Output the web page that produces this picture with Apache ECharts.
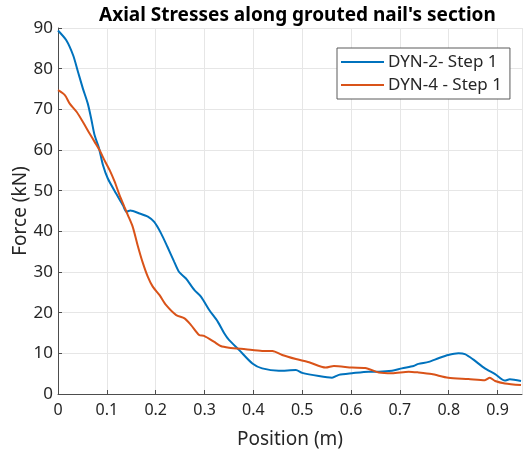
<!DOCTYPE html>
<html>
<head>
<meta charset="utf-8">
<script src="https://cdn.jsdelivr.net/npm/echarts@6/dist/echarts.min.js"></script>
<style>
html,body{margin:0;padding:0;background:#fff;}
#chart{width:523px;height:450px;}
</style>
</head>
<body>
<div id="chart"></div>
<script>
const titleText = "Axial Stresses along grouted nail's section";
const seriesNames = ["DYN-2- Step 1", "DYN-4 - Step 1"];
const xTicks = [0, 0.1, 0.2, 0.3, 0.4, 0.5, 0.6, 0.7, 0.8, 0.9];

const pos2 = [0, 0.017, 0.031, 0.041, 0.051, 0.061, 0.068, 0.075, 0.084, 0.092, 0.102, 0.119, 0.133, 0.140, 0.148, 0.167, 0.184, 0.197, 0.211, 0.224, 0.238, 0.248, 0.262, 0.279, 0.293, 0.310, 0.327, 0.340, 0.350, 0.371, 0.398, 0.418, 0.452, 0.487, 0.500, 0.534, 0.561, 0.575, 0.602, 0.636, 0.657, 0.684, 0.704, 0.728, 0.738, 0.759, 0.779, 0.799, 0.820, 0.833, 0.850, 0.874, 0.895, 0.915, 0.925, 0.948];
const force2 = [89.4, 87.0, 83.3, 79.2, 75.1, 71.4, 67.7, 63.6, 60.4, 56.3, 53.0, 49.3, 46.4, 44.8, 45.1, 44.4, 43.6, 42.3, 39.5, 36.2, 32.5, 30.0, 28.4, 25.6, 23.9, 20.6, 17.8, 15.0, 13.3, 10.8, 7.5, 6.3, 5.7, 5.9, 5.2, 4.4, 4.0, 4.7, 5.1, 5.5, 5.5, 5.7, 6.3, 6.9, 7.4, 7.9, 8.8, 9.6, 10.0, 9.8, 8.5, 6.3, 4.9, 3.3, 3.6, 3.2];

const pos4 = [0, 0.014, 0.024, 0.038, 0.051, 0.065, 0.075, 0.085, 0.095, 0.106, 0.116, 0.126, 0.136, 0.143, 0.153, 0.163, 0.173, 0.184, 0.194, 0.208, 0.221, 0.242, 0.259, 0.272, 0.289, 0.299, 0.320, 0.333, 0.350, 0.384, 0.418, 0.439, 0.459, 0.487, 0.514, 0.548, 0.565, 0.602, 0.629, 0.657, 0.684, 0.718, 0.738, 0.765, 0.799, 0.840, 0.874, 0.884, 0.895, 0.915, 0.948];
const force4 = [74.7, 73.5, 71.4, 69.4, 66.9, 64.0, 62.0, 60.0, 57.5, 55.0, 52.2, 48.9, 46.0, 44.0, 41.1, 36.6, 32.5, 28.8, 26.4, 24.3, 21.9, 19.4, 18.6, 17.0, 14.5, 14.3, 12.8, 11.8, 11.4, 11.0, 10.6, 10.6, 9.6, 8.6, 7.8, 6.5, 6.9, 6.5, 6.4, 5.3, 5.1, 5.5, 5.3, 4.9, 4.0, 3.7, 3.4, 4.0, 3.2, 2.6, 2.2];

const zip = (a, b) => a.map((v, i) => [v, b[i]]);
const FONT = "Noto Sans";
const TXT = "#262626";

const chart = echarts.init(document.getElementById('chart'), null, {renderer: 'canvas'});
chart.setOption({
  animation: false,
  backgroundColor: '#ffffff',
  title: {
    text: titleText,
    left: 94, top: 1,
    textStyle: {fontFamily: FONT, fontSize: 19, fontWeight: 'bold', color: '#000'}
  },
  grid: {left: 58, right: 1, top: 28, bottom: 56, containLabel: false, outerBoundsMode: 'none'},
  legend: {
    orient: 'vertical',
    left: 337, top: 48,
    padding: [4, 8, 4, 4],
    itemGap: 3,
    itemWidth: 43, itemHeight: 2,
    icon: 'rect',
    backgroundColor: '#fff',
    borderColor: '#5a5a5a', borderWidth: 1,
    textStyle: {fontFamily: FONT, fontSize: 17, color: TXT, lineHeight: 20, padding: [0,0,0,-1]},
    data: seriesNames
  },
  xAxis: {
    type: 'value', min: 0, max: 0.95, interval: 0.1,
    name: 'Position (m)', nameLocation: 'middle', nameGap: 36, nameMoveOverlap: false,
    nameTextStyle: {fontFamily: FONT, fontSize: 19, color: TXT},
    axisLine: {show: true, lineStyle: {color: '#4d4d4d', width: 1}},
    axisTick: {show: true, inside: true, length: 4, lineStyle: {color: '#4d4d4d'}},
    axisLabel: {
      fontFamily: FONT, fontSize: 16, color: TXT, margin: 8, showMaxLabel: false,
      formatter: v => { const r = Math.round(v*10)/10; return xTicks.indexOf(r) >= 0 ? String(r) : ''; }
    },
    splitLine: {show: true, lineStyle: {color: '#e6e6e6', width: 1}}
  },
  yAxis: {
    type: 'value', min: 0, max: 90, interval: 10,
    name: 'Force (kN)', nameLocation: 'middle', nameGap: 28, nameMoveOverlap: false,
    nameTextStyle: {fontFamily: FONT, fontSize: 19, color: TXT},
    axisLine: {show: true, lineStyle: {color: '#4d4d4d', width: 1}},
    axisTick: {show: true, inside: true, length: 4, lineStyle: {color: '#4d4d4d'}},
    axisLabel: {fontFamily: FONT, fontSize: 17, color: TXT, margin: 5},
    splitLine: {show: true, lineStyle: {color: '#e6e6e6', width: 1}}
  },
  series: [
    {
      name: seriesNames[0], type: 'line', data: zip(pos2, force2),
      symbol: 'none', smooth: 0.25, z: 3,
      lineStyle: {color: '#0072BD', width: 2}, itemStyle: {color: '#0072BD'}
    },
    {
      name: seriesNames[1], type: 'line', data: zip(pos4, force4),
      symbol: 'none', smooth: 0.25, z: 4,
      lineStyle: {color: '#D95319', width: 2}, itemStyle: {color: '#D95319'}
    }
  ]
});
</script>
</body>
</html>
